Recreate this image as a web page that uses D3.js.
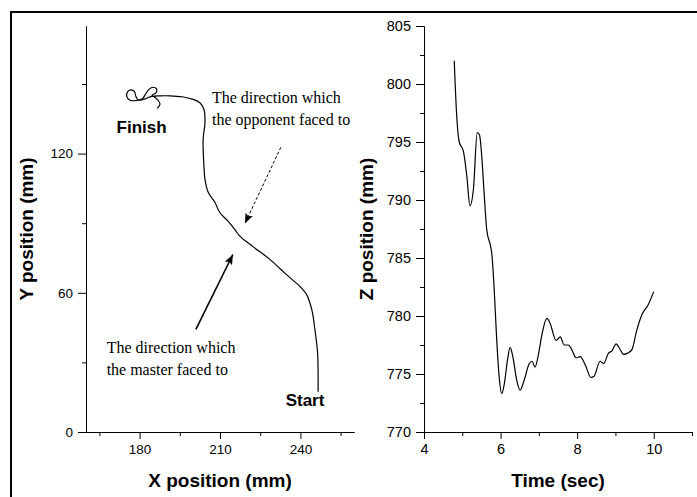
<!DOCTYPE html>
<html>
<head>
<meta charset="utf-8">
<script src="https://cdn.jsdelivr.net/npm/d3@7"></script>
<style>
  body { margin: 0; background: #fff; }
  .axis text { font-family: "Liberation Sans", Arial, sans-serif; fill: #000; }
  .axis path, .axis line { stroke: #000; stroke-width: 1; }
</style>
</head>
<body>
<div id="chart"></div>
<script>
// trajectory in the horizontal plane, from Start to Finish
var trajX = [246.6, 246.4, 245.4, 244.5, 243.5, 242.3, 239.8, 236.7, 234.2, 228.6, 222.2, 217.4, 215.5, 213.0, 209.9,
  208.1, 205.6, 204.4, 204.0, 203.7, 204.4, 204.0, 202.5, 199.9, 195.8, 191.3, 187.6,
  184.6, 182.0, 180.1, 178.3, 176.4, 175.2, 175.7, 176.8, 178.1, 178.6, 179.4, 181.2, 182.4, 183.5, 185.0,
  186.3, 186.1, 184.6, 185.7, 187.0, 187.6, 186.6];
var trajY = [17.4, 34.2, 44.2, 51.5, 55.8, 59.3, 62.8, 65.9, 68.5, 74.4, 80.0, 84.4, 87.3, 90.9, 94.6,
  99.0, 103.3, 108.9, 114.6, 126.2, 133.5, 139.1, 141.9, 143.4, 144.5, 144.9, 144.9,
  144.7, 143.6, 143.0, 142.8, 143.0, 144.7, 146.9, 147.5, 146.7, 144.7, 143.2, 143.9, 146.0, 147.7, 148.6,
  147.9, 146.2, 145.1, 144.3, 142.8, 141.3, 139.5];

// vertical position over time
var time = [4.79, 4.85, 4.92, 5.03, 5.12, 5.20, 5.29, 5.39, 5.45, 5.51, 5.57, 5.64, 5.74, 5.77, 5.83, 5.90, 5.97,
  6.03, 6.10, 6.18, 6.25, 6.32, 6.42, 6.51, 6.61, 6.75, 6.82, 6.90, 6.99, 7.08, 7.21, 7.29, 7.45, 7.56,
  7.66, 7.77, 7.86, 7.97, 8.08, 8.21, 8.36, 8.44, 8.60, 8.69, 8.82, 8.91, 9.02, 9.11, 9.21, 9.32, 9.43,
  9.56, 9.69, 9.86, 10.0];
var zPos = [802.0, 797.5, 795.0, 794.2, 792.0, 789.5, 790.9, 795.8, 795.6, 793.7, 790.6, 787.4, 786.0, 785.4, 782.5, 777.9, 774.5,
  773.3, 774.2, 776.2, 777.3, 776.5, 774.5, 773.6, 774.4, 775.9, 776.1, 775.6, 776.7, 778.4, 779.8, 779.4, 777.9, 778.2,
  777.5, 777.5, 777.1, 776.4, 776.5, 775.8, 774.7, 774.8, 776.1, 775.9, 776.8, 777.0, 777.6, 777.2, 776.7, 776.8, 777.1,
  778.8, 780.1, 781.0, 782.1];

// tick values
var xTicksL = [180, 210, 240], xMinorL = [165, 195, 225, 255];
var yTicksL = [0, 60, 120], yMinorL = [30, 90, 150];
var xTicksR = [4, 6, 8, 10], xMinorR = [5, 7, 9, 11];
var yTicksR = [770, 775, 780, 785, 790, 795, 800, 805], yMinorR = [772.5, 777.5, 782.5, 787.5, 792.5, 797.5, 802.5];

var W = 697, H = 497;
var plotTop = 26, plotBottom = 432;

var svg = d3.select("#chart").append("svg")
  .attr("width", W)
  .attr("height", H);

// outer frame
svg.append("rect")
  .attr("x", 11).attr("y", 12)
  .attr("width", 700).attr("height", 500)
  .attr("fill", "none")
  .attr("stroke", "#000")
  .attr("stroke-width", 2);

function drawAxes(xs, ys, xt, xm, yt, ym, xTitle, yTitle, yTitleX, fs) {
  var x0 = xs.range()[0], x1 = xs.range()[1];

  svg.append("g").attr("class", "axis")
    .attr("transform", "translate(0," + plotBottom + ")")
    .call(d3.axisBottom(xs).tickValues(xm).tickSize(4).tickSizeOuter(0).tickFormat(""));
  svg.append("g").attr("class", "axis")
    .attr("transform", "translate(0," + plotBottom + ")")
    .call(d3.axisBottom(xs).tickValues(xt).tickSize(7).tickSizeOuter(0).tickPadding(5).tickFormat(d3.format("d")))
    .selectAll("text").style("font-size", fs + "px");

  svg.append("g").attr("class", "axis")
    .attr("transform", "translate(" + x0 + ",0)")
    .call(d3.axisLeft(ys).tickValues(ym).tickSize(4).tickSizeOuter(0).tickFormat(""));
  svg.append("g").attr("class", "axis")
    .attr("transform", "translate(" + x0 + ",0)")
    .call(d3.axisLeft(ys).tickValues(yt).tickSize(8).tickSizeOuter(0).tickPadding(5).tickFormat(d3.format("d")))
    .selectAll("text").style("font-size", fs + "px");

  svg.append("text")
    .attr("x", (x0 + x1) / 2)
    .attr("y", 487)
    .attr("text-anchor", "middle")
    .style("font-family", "Liberation Sans, Arial, sans-serif")
    .style("font-weight", "bold")
    .style("font-size", "19px")
    .text(xTitle);

  svg.append("text")
    .attr("transform", "translate(" + yTitleX + "," + (plotTop + plotBottom) / 2 + ") rotate(-90)")
    .attr("text-anchor", "middle")
    .style("font-family", "Liberation Sans, Arial, sans-serif")
    .style("font-weight", "bold")
    .style("font-size", "19px")
    .text(yTitle);
}

// ---- left panel: X / Y trajectory
var xL = d3.scaleLinear().domain([160, 260]).range([86, 354]);
var yL = d3.scaleLinear().domain([0, 175]).range([plotBottom, plotTop]);

drawAxes(xL, yL, xTicksL, xMinorL, yTicksL, yMinorL, "X position (mm)", "Y position (mm)", 33, 13.5);

var traj = trajX.map(function(d, i) { return [d, trajY[i]]; });
svg.append("path")
  .datum(traj)
  .attr("fill", "none")
  .attr("stroke", "#000")
  .attr("stroke-width", 1.2)
  .attr("d", d3.line()
    .x(function(d) { return xL(d[0]); })
    .y(function(d) { return yL(d[1]); })
    .curve(d3.curveCatmullRom));

svg.append("defs").append("marker")
  .attr("id", "head")
  .attr("viewBox", "0 0 10 10")
  .attr("refX", 10).attr("refY", 5)
  .attr("markerWidth", 10).attr("markerHeight", 10)
  .attr("markerUnits", "userSpaceOnUse")
  .attr("orient", "auto")
  .append("path")
  .attr("d", "M0,1 L10,5 L0,9 L2,5 Z")
  .attr("fill", "#000");

// arrows: [x1, y1, x2, y2] in data units
var arrows = [
  { p: [201.0, 44.2, 214.8, 76.5], dash: null, w: 1.6 },
  { p: [232.7, 122.7, 219.3, 89.9], dash: "3,2", w: 1 }
];
arrows.forEach(function(a) {
  svg.append("line")
    .attr("x1", xL(a.p[0])).attr("y1", yL(a.p[1]))
    .attr("x2", xL(a.p[2])).attr("y2", yL(a.p[3]))
    .attr("stroke", "#000")
    .attr("stroke-width", a.w)
    .attr("stroke-dasharray", a.dash)
    .attr("marker-end", "url(#head)");
});

var notes = [
  { x: 207.0, y: 142.0, t: "The direction which" },
  { x: 207.0, y: 132.2, t: "the opponent faced to" },
  { x: 167.7, y: 34.1, t: "The direction which" },
  { x: 167.7, y: 24.4, t: "the master faced to" }
];
svg.selectAll(".note")
  .data(notes)
  .enter().append("text")
  .attr("class", "note")
  .attr("x", function(d) { return xL(d.x); })
  .attr("y", function(d) { return yL(d.y); })
  .style("font-family", "Liberation Serif, Times New Roman, serif")
  .style("font-size", "16px")
  .text(function(d) { return d.t; });

var marks = [
  { x: 171.4, y: 129.0, t: "Finish" },
  { x: 234.5, y: 11.0, t: "Start" }
];
svg.selectAll(".mark")
  .data(marks)
  .enter().append("text")
  .attr("class", "mark")
  .attr("x", function(d) { return xL(d.x); })
  .attr("y", function(d) { return yL(d.y); })
  .style("font-family", "Liberation Sans, Arial, sans-serif")
  .style("font-weight", "bold")
  .style("font-size", "17px")
  .text(function(d) { return d.t; });

// ---- right panel: Z over time
var xR = d3.scaleLinear().domain([4, 11]).range([424, 692]);
var yR = d3.scaleLinear().domain([770, 805]).range([plotBottom, plotTop]);

drawAxes(xR, yR, xTicksR, xMinorR, yTicksR, yMinorR, "Time (sec)", "Z position (mm)", 373, 14.5);

svg.append("path")
  .datum(time.map(function(d, i) { return [d, zPos[i]]; }))
  .attr("fill", "none")
  .attr("stroke", "#000")
  .attr("stroke-width", 1.2)
  .attr("d", d3.line()
    .x(function(d) { return xR(d[0]); })
    .y(function(d) { return yR(d[1]); })
    .curve(d3.curveMonotoneX));
</script>
</body>
</html>
